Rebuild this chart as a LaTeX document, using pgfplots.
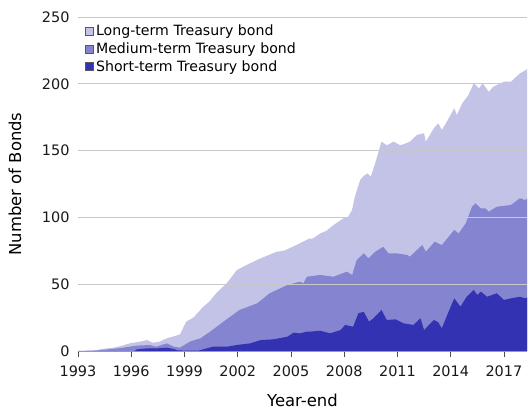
\documentclass[border=0pt]{standalone}
\usepackage{pgfplots}
\pgfplotsset{compat=1.18}
\usepackage{fontspec}
\setmainfont{DejaVu Sans}
\definecolor{clong}{RGB}{195,195,232}
\definecolor{cmed}{RGB}{132,132,208}
\definecolor{cshort}{RGB}{50,50,178}
\definecolor{cgrid}{RGB}{200,200,200}
\definecolor{cbase}{RGB}{150,150,200}
\begin{document}
\begin{tikzpicture}
\begin{axis}[
  scale only axis, width=449bp, height=334bp,
  xmin=1993, xmax=2018.3, ymin=0, ymax=250,
  axis on top,
  axis lines*=left,
  x axis line style={draw=cbase, line width=0.8pt, -},
  y axis line style={draw=none},
  xtick={1993,1996,...,2017},
  ytick={0,50,...,250},
  xticklabel style={/pgf/number format/1000 sep={}, yshift=-5bp},
  x tick style={draw=black!70, line width=0.8pt},
  y tick style={draw=none},
  tick align=outside,
  major tick length=6bp,
  ymajorgrids,
  grid style={draw=cgrid, line width=0.8pt},
  /pgf/number format/assume math mode=true,
  ticklabel style={font=\fontsize{14.5}{17}\selectfont, text=black!90},
  yticklabel style={xshift=1bp},
  xlabel={Year-end},
  ylabel={Number of Bonds},
  label style={font=\fontsize{16.5}{19}\selectfont},
  xlabel style={at={(axis description cs:0.5,-0.1467)}, anchor=center},
  ylabel style={at={(axis description cs:-0.1403,0.5)}, anchor=center, rotate=0},
  legend style={at={(axis description cs:0.014,0.985)}, anchor=north west, draw=none, fill=none,
    font=\fontsize{14.2}{18}\selectfont, row sep=1.5bp, inner sep=1bp,
    cells={anchor=west}},
  legend image code/.code={\draw[#1, draw=black!65, line width=0.6pt] (0bp,-4bp) rectangle (8bp,4bp);},
]
\addplot[fill=clong, draw=none] table {
1993.0 0
1994.0 0.3
1994.3 1.5
1995.0 2.5
1995.5 4
1995.9 5.7
1996.5 7
1996.9 8.2
1997.2 6.2
1997.6 7
1998.0 9.5
1998.4 11
1998.75 12.5
1999.1 22
1999.5 25
2000.05 33
2000.4 37
2000.8 43.4
2001.4 51
2001.95 60.6
2002.5 64.4
2003.3 69.4
2004.2 74.3
2004.6 75
2005.1 78
2005.5 80.6
2006.0 84
2006.25 84.3
2006.65 88
2007.0 90
2007.4 94.3
2007.95 99.3
2008.2 100
2008.44 105.5
2008.6 115.5
2008.9 128
2009.1 131
2009.3 133
2009.5 130.5
2009.75 140.7
2010.1 156.7
2010.4 154
2010.8 156.7
2011.15 154
2011.4 155
2011.7 156.7
2012.1 161.7
2012.5 163
2012.6 156.7
2013.05 166.7
2013.3 170.4
2013.5 165.4
2013.8 172
2014.2 181.7
2014.35 176.6
2014.65 185.4
2015.0 191.6
2015.3 200.4
2015.6 196.6
2015.8 200.4
2016.15 194
2016.4 197.8
2017.0 201.6
2017.4 201.6
2017.9 207.8
2018.2 210
2018.3 211
} \closedcycle;
\addlegendentry{Long-term Treasury bond}
\addplot[fill=cmed, draw=none] table {
1993.0 0
1994.2 0.5
1995.4 2.2
1996.3 4
1997.05 4.5
1997.4 3.2
1998.0 5.7
1998.4 3.2
1998.75 2.5
1999.3 7
1999.9 9.5
2000.45 14.5
2001.2 22
2002.1 30.7
2003.1 35.7
2003.8 43.2
2004.8 49.4
2005.5 51.9
2005.7 50.7
2005.9 55.6
2006.65 56.9
2007.4 55.6
2008.15 59.4
2008.45 56.9
2008.7 68
2009.1 73
2009.37 69.4
2009.75 74.3
2010.2 78
2010.5 73
2011.0 73
2011.55 71.9
2011.7 70.6
2012.1 75.6
2012.4 79.3
2012.6 74.3
2013.1 81.8
2013.5 79.3
2014.2 90.6
2014.45 88
2014.85 95.6
2015.2 108
2015.4 110.5
2015.7 106.8
2015.95 106.8
2016.15 104.3
2016.6 108
2017.4 109.3
2017.9 114.3
2018.2 113
2018.3 114
} \closedcycle;
\addlegendentry{Medium-term Treasury bond}
\addplot[fill=cshort, draw=none] table {
1993 0
1996.2 0
1996.3 1.2
1996.9 2
1997.5 2
1998.0 2.5
1998.4 1.5
1998.6 0.5
1999.0 0.3
1999.8 0.3
1999.9 0.7
2000.6 3.2
2001.4 3.2
2001.95 4.5
2002.7 5.7
2003.3 8.2
2004.0 8.7
2004.8 10.7
2005.15 13.7
2005.5 13.2
2005.9 14.5
2006.1 14.5
2006.65 15.2
2007.2 13.2
2007.8 15.7
2008.05 19.5
2008.5 18.2
2008.8 28.2
2009.1 29.4
2009.4 22
2009.65 24.5
2010.1 30.7
2010.4 23.2
2010.9 23.7
2011.35 20.7
2011.9 19.5
2012.3 24.5
2012.5 15.7
2013.05 23.2
2013.3 21.5
2013.5 17
2013.9 30
2014.2 39.4
2014.55 33.2
2014.9 40.6
2015.3 45.7
2015.5 41.9
2015.7 44.4
2016.05 40.6
2016.6 43.2
2017.0 38.2
2017.4 39.4
2017.9 40.6
2018.2 39.4
2018.3 40
} \closedcycle;
\addlegendentry{Short-term Treasury bond}
\end{axis}
\pgfresetboundingbox
\useasboundingbox (-78bp,-59bp) rectangle (451bp,351bp);
\end{tikzpicture}
\end{document}
